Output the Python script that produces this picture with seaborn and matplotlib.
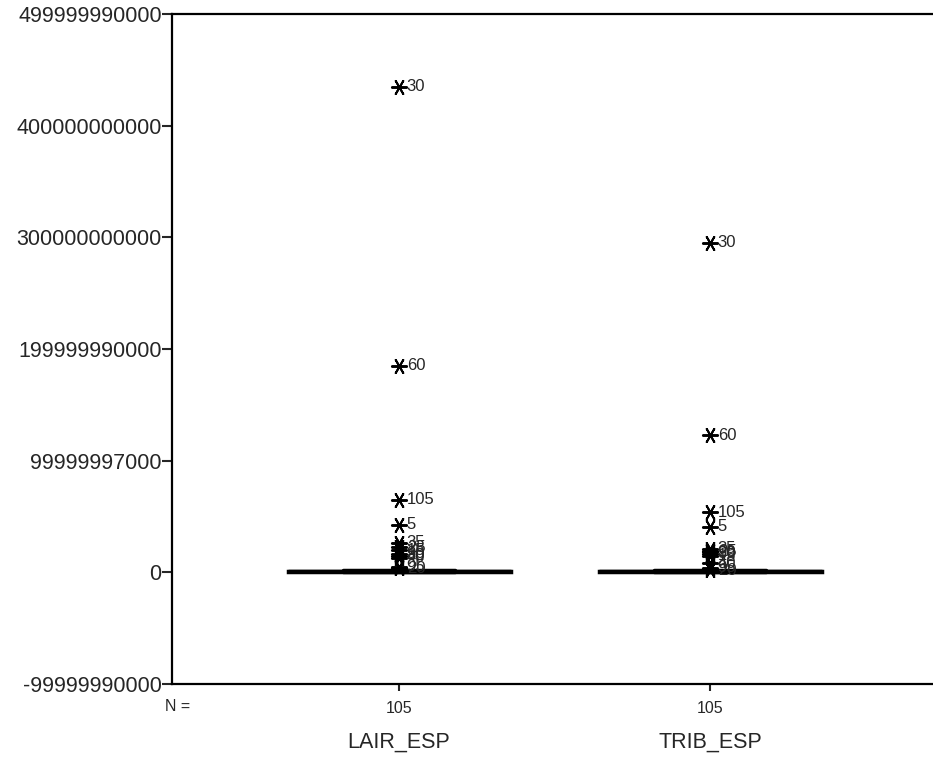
import matplotlib
matplotlib.use("Agg")
import matplotlib.pyplot as plt
import matplotlib.transforms as mtransforms
import pandas as pd
import seaborn as sns

# variables and case counts
categories = ["LAIR_ESP", "TRIB_ESP"]
n_counts = [105, 105]

# bulk of the cases (sits right on zero at this scale)
core_lair = [0.0, 0.2e9, 0.5e9, 0.8e9, 1.0e9, 1.3e9, 1.6e9, 2.0e9, 2.4e9]
core_trib = [0.0, 0.2e9, 0.4e9, 0.7e9, 1.0e9, 1.2e9, 1.5e9, 1.9e9, 2.2e9]

# extreme cases, labelled by case number
out_lair_ids = ["30", "60", "105", "5", "35", "25", "15", "90", "80", "40", "95", "20"]
out_lair_vals = [4.35e11, 1.85e11, 0.65e11, 0.425e11, 0.265e11, 0.225e11,
                 0.20e11, 0.165e11, 0.15e11, 0.13e11, 0.05e11, 0.035e11]
out_trib_ids = ["30", "60", "105", "5", "35", "25", "90", "80", "15", "40", "95", "20"]
out_trib_vals = [2.95e11, 1.23e11, 0.54e11, 0.41e11, 0.21e11, 0.19e11,
                 0.18e11, 0.165e11, 0.15e11, 0.08e11, 0.04e11, 0.02e11]

y_ticks = [-99999990000, 0, 99999997000, 199999990000, 300000000000,
           400000000000, 499999990000]
y_ticklabels = ["-99999990000", "0", "99999997000", "199999990000",
                "300000000000", "400000000000", "499999990000"]

core_df = pd.DataFrame({
    "var": [categories[0]] * len(core_lair) + [categories[1]] * len(core_trib),
    "value": core_lair + core_trib,
})
out_df = pd.DataFrame({
    "var": [categories[0]] * len(out_lair_vals) + [categories[1]] * len(out_trib_vals),
    "value": out_lair_vals + out_trib_vals,
    "case": out_lair_ids + out_trib_ids,
})

sns.set_style("white")
plt.rcParams["font.family"] = ["Liberation Sans", "DejaVu Sans"]

fig = plt.figure(figsize=(9.33, 7.58), dpi=100)
ax = fig.add_axes([0.1844, 0.0976, 0.8156, 0.8839])

sns.boxplot(data=core_df, x="var", y="value", order=categories, ax=ax,
            width=0.717, color="black", linecolor="black", linewidth=2.5,
            showfliers=False, whis=1.5)

sns.scatterplot(data=out_df, x="var", y="value", ax=ax, marker=(6, 2, 90),
                s=120, color="black", linewidth=1.4, edgecolor="black",
                legend=False, zorder=5)

pos = {c: i for i, c in enumerate(categories)}
for _, row in out_df.iterrows():
    ax.annotate(row["case"], (pos[row["var"]], row["value"]),
                xytext=(5.5, 0), textcoords="offset points",
                va="center", ha="left", fontsize=12, zorder=6)

ax.set_xlim(-0.730, 1.717)
ax.set_ylim(-1e11, 5e11)
ax.set_yticks(y_ticks)
ax.set_yticklabels(y_ticklabels, fontsize=15.5)
ax.set_xticks(range(len(categories)))
ax.set_xticklabels([str(n) for n in n_counts], fontsize=11.5)
ax.set_xlabel("")
ax.set_ylabel("")

ax.tick_params(axis="y", direction="out", length=7, width=1.5, left=True, pad=0.5)
ax.tick_params(axis="x", direction="out", length=5, width=1.5, bottom=True, pad=7)

for side in ["left", "top", "bottom"]:
    ax.spines[side].set_visible(True)
    ax.spines[side].set_linewidth(1.6)
    ax.spines[side].set_color("black")
ax.spines["right"].set_visible(False)

trans = mtransforms.blended_transform_factory(ax.transData, ax.transAxes)
for i, c in enumerate(categories):
    ax.text(i, -0.087, c, transform=trans, ha="center", va="center", fontsize=15.5)
ax.text(0.007, -0.033, "N =", transform=ax.transAxes, ha="center", va="center",
        fontsize=11.5)

fig.savefig("out.png", dpi=100)
